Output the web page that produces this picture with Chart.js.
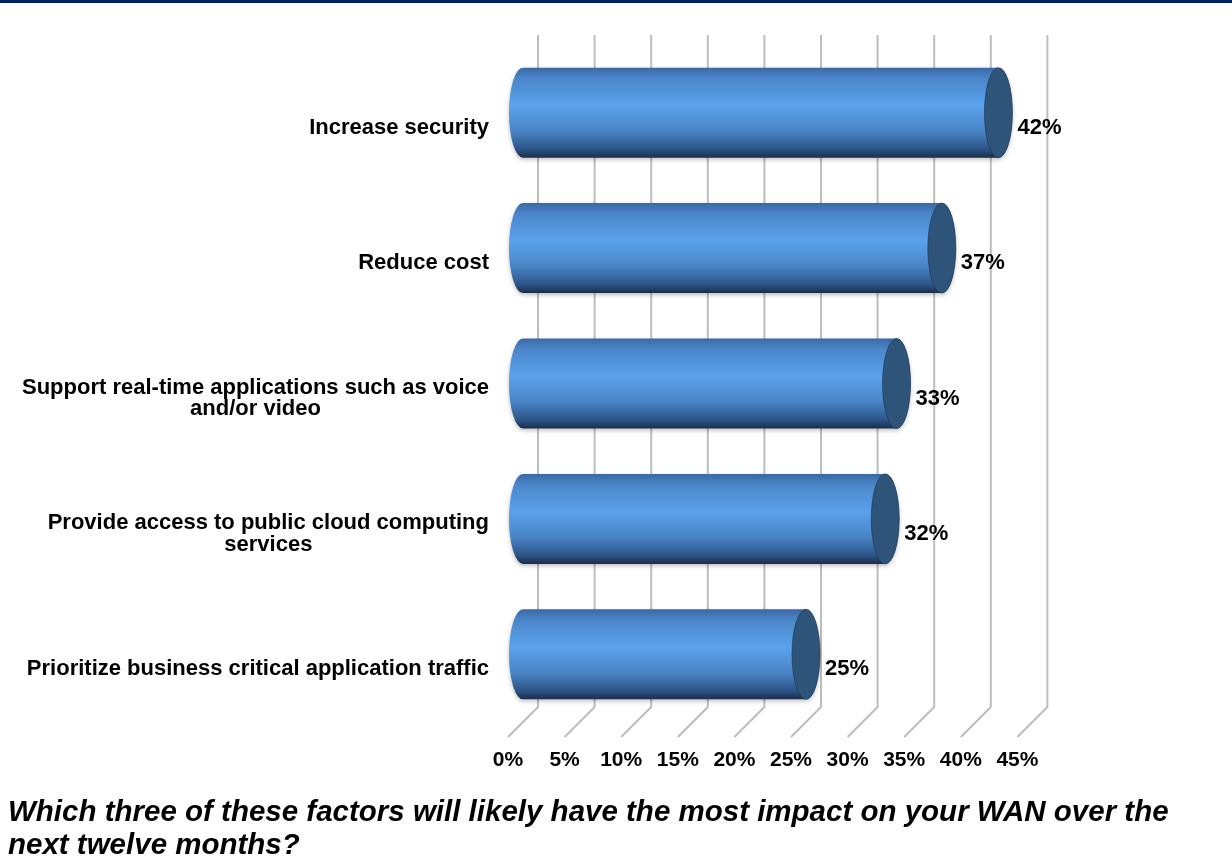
<!DOCTYPE html>
<html lang="en">
<head>
<meta charset="UTF-8" />
<title>WAN Impact Factors</title>
<script src="https://cdn.jsdelivr.net/npm/chart.js"></script>
<style>
  body { margin: 0; background: #fff; }
  .wrap { position: relative; width: 1232px; height: 865px; overflow: hidden; }
  .topbar { position: absolute; left: 0; top: 0; width: 100%; height: 3px; background: #002060; }
  .question {
    position: absolute; left: 8px; top: 794px;
    font: italic bold 29.5px "Liberation Sans", Arial, sans-serif;
    line-height: 33px; color: #000; white-space: nowrap;
  }
</style>
</head>
<body>
<div class="wrap">
  <canvas id="wanChart"></canvas>
  <div class="topbar"></div>
  <div class="question">Which three of these factors will likely have the most impact on your WAN over the<br>next twelve months?</div>
</div>

<script>
const categories = [
  'Increase security',
  'Reduce cost',
  ['Support real-time applications such as voice', 'and/or video'],
  ['Provide access to public cloud computing', 'services'],
  'Prioritize business critical application traffic'
];
const shares = [42, 37, 33, 32, 25];
const axisMax = 45;
const axisStep = 5;

const DEPTH = 30;          // 3D depth of the plot box
const LABEL_FONT = 'bold 22px "Liberation Sans", Arial, sans-serif';

Chart.defaults.font.family = '"Liberation Sans", Arial, sans-serif';

// back wall gridlines plus the floor diagonals
const wallGrid = {
  id: 'wallGrid',
  beforeDatasetsDraw(chart) {
    const { ctx, chartArea: a, scales: { x } } = chart;
    ctx.save();
    ctx.strokeStyle = '#bdbdbd';
    ctx.lineWidth = 2;
    x.ticks.forEach(t => {
      const px = x.getPixelForValue(t.value);
      ctx.beginPath();
      ctx.moveTo(px + DEPTH, a.top - DEPTH + 5);
      ctx.lineTo(px + DEPTH, a.bottom - DEPTH);
      ctx.lineTo(px, a.bottom);
      ctx.stroke();
    });
    ctx.restore();
  }
};

// bars drawn as cylinders sitting half way into the box
const cylinders = {
  id: 'cylinders',
  afterDatasetsDraw(chart) {
    const { ctx } = chart;
    const meta = chart.getDatasetMeta(0);
    const half = DEPTH / 2;
    meta.data.forEach((bar, i) => {
      const { x, y, base, height } = bar.getProps(['x', 'y', 'base', 'height'], true);
      const x0 = base + half, x1 = x + half, cy = y - half;
      const ry = height / 2, rx = 14;
      const top = cy - ry, bottom = cy + ry;

      const body = ctx.createLinearGradient(0, top, 0, bottom);
      body.addColorStop(0, '#3a69a3');
      body.addColorStop(0.12, '#4a86c9');
      body.addColorStop(0.42, '#5aa2ec');
      body.addColorStop(0.7, '#4a84c6');
      body.addColorStop(0.9, '#2d5689');
      body.addColorStop(1, '#1b2e4a');

      ctx.save();
      ctx.shadowColor = 'rgba(0,0,0,0.25)';
      ctx.shadowBlur = 4;
      ctx.shadowOffsetY = 2;
      ctx.beginPath();
      ctx.moveTo(x0, top);
      ctx.lineTo(x1, top);
      ctx.ellipse(x1, cy, rx, ry, 0, -Math.PI / 2, Math.PI / 2);
      ctx.lineTo(x0, bottom);
      ctx.ellipse(x0, cy, rx, ry, 0, Math.PI / 2, Math.PI * 1.5);
      ctx.closePath();
      ctx.fillStyle = body;
      ctx.fill();
      ctx.restore();

      ctx.save();
      ctx.beginPath();
      ctx.ellipse(x1, cy, rx, ry, 0, 0, Math.PI * 2);
      ctx.fillStyle = '#2f5479';
      ctx.fill();
      ctx.strokeStyle = 'rgba(30,50,80,0.6)';
      ctx.lineWidth = 1;
      ctx.stroke();

      ctx.font = LABEL_FONT;
      ctx.fillStyle = '#000';
      ctx.textAlign = 'left';
      ctx.textBaseline = 'middle';
      ctx.fillText(shares[i] + '%', x1 + rx + 5, y);
      ctx.restore();
    });
  }
};

// category names: block right aligned, wrapped lines centred
const categoryLabels = {
  id: 'categoryLabels',
  afterDraw(chart) {
    const { ctx, chartArea: a, scales: { y } } = chart;
    ctx.save();
    ctx.font = LABEL_FONT;
    ctx.fillStyle = '#000';
    ctx.textAlign = 'center';
    ctx.textBaseline = 'middle';
    categories.forEach((label, i) => {
      const lines = [].concat(label);
      const w = Math.max(...lines.map(l => ctx.measureText(l).width));
      const cx = a.left - 19 - w / 2;
      const cy = y.getPixelForValue(i);
      lines.forEach((line, j) => {
        ctx.fillText(line, cx, cy + (j - (lines.length - 1) / 2) * 21.5);
      });
    });
    ctx.restore();
  }
};

new Chart(document.getElementById('wanChart'), {
  type: 'bar',
  data: {
    labels: categories,
    datasets: [{
      data: shares,
      backgroundColor: 'rgba(0,0,0,0)',
      borderWidth: 0,
      barPercentage: 0.665,
      categoryPercentage: 1
    }]
  },
  options: {
    indexAxis: 'y',
    responsive: true,
    maintainAspectRatio: false,
    animation: false,
    layout: { padding: { top: 60, right: 214.6, bottom: 88, left: 0 } },
    scales: {
      x: {
        min: 0,
        max: axisMax,
        ticks: {
          stepSize: axisStep,
          padding: 11,
          color: '#000',
          font: { size: 21, weight: 'bold' },
          callback: v => v + '%'
        },
        grid: { display: false, drawTicks: false },
        border: { display: false },
        afterFit(s) { s.height = 40; }
      },
      y: {
        ticks: { display: false },
        grid: { display: false, drawTicks: false },
        border: { display: false },
        afterFit(s) { s.width = 508; }
      }
    },
    plugins: {
      legend: { display: false },
      tooltip: { enabled: false }
    }
  },
  plugins: [wallGrid, cylinders, categoryLabels]
});
</script>
</body>
</html>
